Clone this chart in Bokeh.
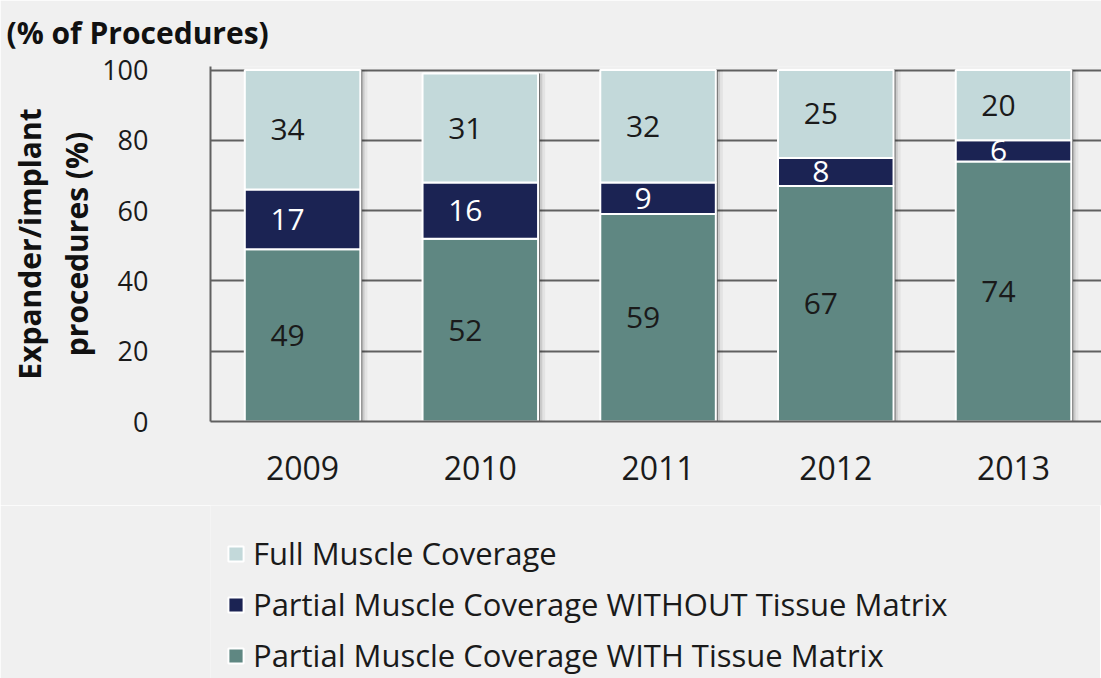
from bokeh.plotting import figure
from bokeh.layouts import column
from bokeh.models import ColumnDataSource, Range1d, FixedTicker, Legend, LegendItem
from bokeh.transform import dodge
from bokeh.core.properties import value
from bokeh.embed import file_html
from bokeh.resources import INLINE

years = ["2009", "2010", "2011", "2012", "2013"]
with_matrix = [49, 52, 59, 67, 74]
without_matrix = [17, 16, 9, 8, 6]
full_coverage = [34, 31, 32, 25, 20]
series_names = ["Full Muscle Coverage",
                "Partial Muscle Coverage WITHOUT Tissue Matrix",
                "Partial Muscle Coverage WITH Tissue Matrix"]
y_ticks = [0, 20, 40, 60, 80, 100]

C_FULL = "#c3d9da"
C_WO = "#1b2353"
C_WITH = "#5f8782"
BG = "#f0f0f0"
FONT = "Open Sans"
W = 1101
H1 = 505
H2 = 173

xs = list(range(len(years)))
total = [a + b + c for a, b, c in zip(with_matrix, without_matrix, full_coverage)]
src = ColumnDataSource(dict(x=xs, with_m=with_matrix, without_m=without_matrix,
                            full=full_coverage, total=total))

p = figure(width=W, height=H1, output_backend="svg", toolbar_location=None,
           x_range=Range1d(-0.518, 4.495), y_range=Range1d(0, 101),
           min_border_left=210, min_border_right=0, min_border_top=66, min_border_bottom=84)
p.background_fill_color = BG
p.border_fill_color = BG
p.outline_line_color = None

# shadows
p.vbar(x=dodge("x", 0.04, range=p.x_range), top="total", bottom=0, width=0.65,
       fill_color="#000000", fill_alpha=0.05, line_alpha=0, source=src)
p.vbar(x=dodge("x", 0.024, range=p.x_range), top="total", bottom=0, width=0.65,
       fill_color="#000000", fill_alpha=0.1, line_alpha=0, source=src)
p.vbar(x=dodge("x", 0.011, range=p.x_range), top="total", bottom=0, width=0.65,
       fill_color="#555555", fill_alpha=0.85, line_alpha=0, source=src)

rs = p.vbar_stack(["with_m", "without_m", "full"], x="x", width=0.65,
                  color=[C_WITH, C_WO, C_FULL], line_color="white", line_width=2,
                  source=src)

# labels
mid_with = [v / 2 for v in with_matrix]
mid_wo = [a + b / 2 for a, b in zip(with_matrix, without_matrix)]
mid_full = [a + b + c / 2 for a, b, c in zip(with_matrix, without_matrix, full_coverage)]
for mids, vals, col in [(mid_with, with_matrix, "#1a1a1a"),
                        (mid_wo, without_matrix, "#ffffff"),
                        (mid_full, full_coverage, "#1a1a1a")]:
    ls = ColumnDataSource(dict(x=xs, y=mids, t=[str(v) for v in vals]))
    p.text(x="x", y="y", text="t", source=ls, x_offset=-15, text_align="center",
           text_baseline="middle", text_color=col, text_font=value(FONT),
           text_font_size="30px")

# grid
p.xgrid.visible = False
p.ygrid.ticker = FixedTicker(ticks=y_ticks)
p.ygrid.grid_line_color = "#606060"
p.ygrid.grid_line_width = 2

# axes
p.yaxis.ticker = FixedTicker(ticks=y_ticks)
p.yaxis.major_tick_line_color = None
p.yaxis.minor_tick_line_color = None
p.yaxis.axis_line_color = "#606060"
p.yaxis.axis_line_width = 2
p.yaxis.major_label_standoff = 56
p.yaxis.major_label_text_font = FONT
p.yaxis.major_label_text_font_size = "27px"
p.yaxis.major_label_text_color = "#1a1a1a"
p.yaxis.axis_label = "Expander/implant\nprocedures (%)"
p.yaxis.axis_label_text_font = FONT
p.yaxis.axis_label_text_font_size = "30px"
p.yaxis.axis_label_text_font_style = "bold"
p.yaxis.axis_label_text_color = "#111111"
p.yaxis.axis_label_text_line_height = 1.15
p.yaxis.axis_label_standoff = 2

p.xaxis.ticker = FixedTicker(ticks=xs)
p.xaxis.major_label_overrides = {i: y for i, y in zip(xs, years)}
p.xaxis.major_tick_line_color = None
p.xaxis.minor_tick_line_color = None
p.xaxis.axis_line_color = "#606060"
p.xaxis.axis_line_width = 2
p.xaxis.major_label_standoff = 28
p.xaxis.major_label_text_font = FONT
p.xaxis.major_label_text_font_size = "32px"
p.xaxis.major_label_text_color = "#1a1a1a"

# title
p.title.text = "(% of Procedures)"
p.title.text_font = FONT
p.title.text_font_size = "30px"
p.title.text_font_style = "bold"
p.title.text_color = "#111111"
p.title.align = "left"
p.title.vertical_align = "top"
p.title.offset = -204
p.title.standoff = 23

# legend panel (proxy bars drawn off-view; only the legend shows)
p2 = figure(width=W, height=H2, output_backend="svg", toolbar_location=None,
            x_range=Range1d(-100, -99), y_range=Range1d(0, 1),
            min_border_left=210, min_border_right=0, min_border_top=0, min_border_bottom=0)
p2.background_fill_color = BG
p2.border_fill_color = BG
p2.outline_line_color = None
p2.axis.visible = False
p2.grid.visible = False
leg_rs = [p2.vbar(x="x", top=col, width=0.65, fill_color=c, line_color="white",
                  line_width=2, source=src)
          for col, c in [("full", C_FULL), ("without_m", C_WO), ("with_m", C_WITH)]]

legend = Legend(items=[LegendItem(label=n, renderers=[r], index=0)
                       for n, r in zip(series_names, leg_rs)],
                location=(16, 2), orientation="vertical")
legend.background_fill_alpha = 0
legend.border_line_alpha = 0
legend.label_text_font = FONT
legend.label_text_font_size = "31px"
legend.label_text_color = "#1a1a1a"
legend.glyph_width = 19
legend.glyph_height = 19
legend.label_standoff = 8
legend.label_height = 38
legend.spacing = 9
legend.margin = 0
legend.padding = 0
p2.add_layout(legend)

layout = column(p, p2, spacing=0)
open("out.html", "w").write(file_html(layout, INLINE))
